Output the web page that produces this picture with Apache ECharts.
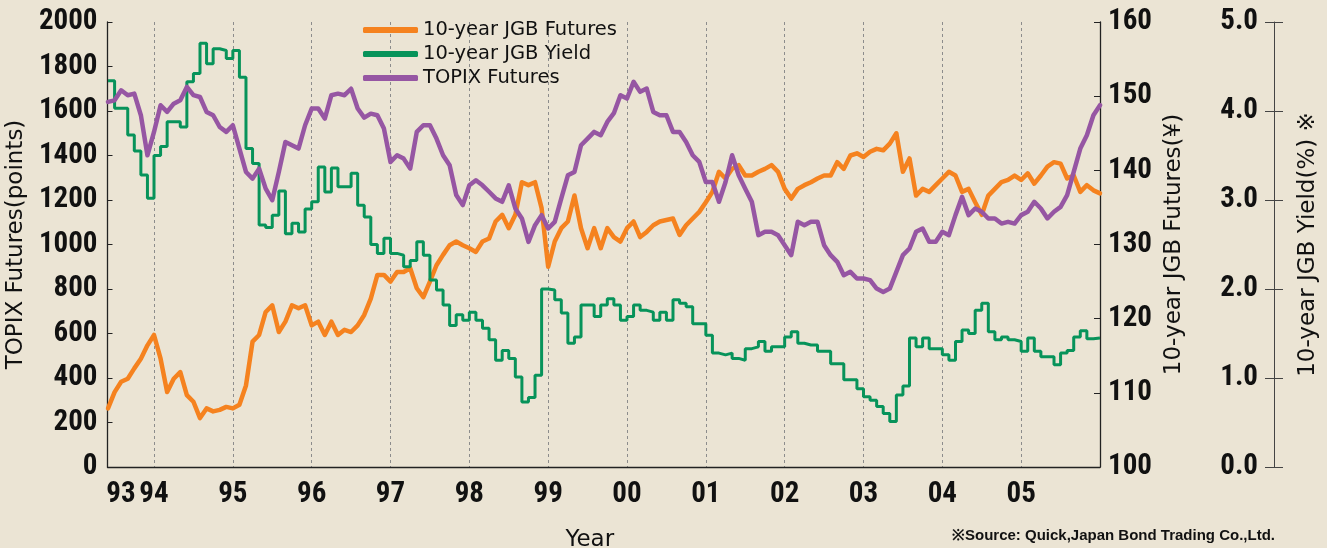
<!DOCTYPE html>
<html lang="en">
<head>
    <meta charset="UTF-8">
    <title>TOPIX Futures / 10-year JGB</title>
    <script src="https://cdn.jsdelivr.net/npm/echarts@6/dist/echarts.min.js"></script>
    <style>
        html, body { margin: 0; padding: 0; background: #ebe4d4; }
        #chartmain { width: 1327px; height: 548px; }
    </style>
</head>
<body>
<div id="chartmain"></div>
<script type="text/javascript">
    // monthly readings, first month = June 1993, last = December 2005
    var startYear = 1993, startMonth = 6, endYear = 2006;

    var topixFutures = [
        1641, 1648, 1693, 1671, 1678, 1581, 1401, 1506, 1626, 1596,
        1633, 1648, 1708, 1671, 1663, 1596, 1581, 1528, 1506, 1536,
        1431, 1326, 1296, 1341, 1251, 1199, 1326, 1461, 1446, 1431,
        1536, 1611, 1611, 1566, 1671, 1678, 1671, 1700, 1611, 1570,
        1588, 1581, 1521, 1371, 1401, 1386, 1341, 1506, 1536, 1536,
        1476, 1401, 1356, 1222, 1177, 1266, 1289, 1266, 1237, 1207,
        1192, 1266, 1162, 1117, 1012, 1087, 1132, 1072, 1102, 1207,
        1311, 1326, 1446, 1476, 1506, 1491, 1551, 1590, 1671, 1656,
        1731, 1686, 1701, 1596, 1581, 1581, 1506, 1506, 1461, 1401,
        1371, 1281, 1281, 1192, 1281, 1401, 1311, 1251, 1192, 1042,
        1057, 1057, 1042, 997, 952, 1102, 1087, 1102, 1102, 997,
        952, 922, 862, 877, 847, 847, 840, 802, 787, 802,
        877, 952, 982, 1057, 1072, 1012, 1012, 1057, 1042, 1132,
        1214, 1132, 1162, 1147, 1117, 1117, 1094, 1102, 1094, 1132,
        1147, 1192, 1162, 1117, 1147, 1169, 1222, 1326, 1431, 1491, 1581
    ];
    var topixLast = 1626;

    var jgbFutures = [
        107.9, 110.1, 111.5, 111.9, 113.3, 114.6, 116.4, 117.8, 114.6, 110.1,
        111.9, 112.8, 109.7, 108.8, 106.6, 107.9, 107.5, 107.7, 108.1, 107.9,
        108.4, 111.0, 116.9, 117.8, 120.9, 121.8, 118.2, 119.6, 121.8, 121.4,
        121.8, 119.1, 119.6, 117.8, 119.6, 117.8, 118.5, 118.2, 119.1, 120.5,
        122.7, 125.9, 125.9, 125.0, 126.3, 126.3, 126.8, 124.1, 122.9, 125.0,
        127.2, 128.6, 129.9, 130.4, 129.9, 129.5, 129.0, 130.4, 130.8, 133.1,
        134.0, 132.2, 134.0, 138.4, 138.0, 138.4, 134.9, 127.0, 130.4, 132.2,
        133.1, 136.6, 132.2, 129.5, 132.2, 129.5, 132.2, 131.0, 130.4, 132.2,
        133.1, 131.0, 131.7, 132.6, 133.1, 133.3, 133.5, 131.3, 132.6, 133.5,
        134.4, 135.7, 137.1, 139.8, 138.9, 140.2, 140.7, 139.3, 139.3, 139.8,
        140.2, 140.7, 139.8, 137.5, 136.2, 137.5, 138.0, 138.4, 138.9, 139.3,
        139.3, 141.1, 140.2, 142.0, 142.3, 141.8, 142.5, 142.9, 142.7, 143.6,
        145.0, 139.8, 141.6, 136.6, 137.5, 137.1, 138.0, 138.9, 139.8, 139.3,
        137.1, 137.5, 135.7, 134.0, 136.6, 137.5, 138.4, 138.7, 139.3, 138.7,
        139.6, 138.2, 139.3, 140.5, 141.1, 140.9, 138.9, 139.3, 137.1, 138.0, 137.3
    ];
    var jgbFuturesLast = 136.9;

    var jgbYield = [
        4.34, 4.03, 4.03, 3.73, 3.55, 3.28, 3.02, 3.50, 3.60, 3.88,
        3.88, 3.82, 4.33, 4.42, 4.76, 4.53, 4.70, 4.68, 4.59, 4.68,
        4.38, 3.58, 3.41, 2.72, 2.69, 2.83, 3.10, 2.62, 2.74, 2.64,
        2.90, 2.98, 3.37, 3.09, 3.36, 3.15, 3.15, 3.30, 2.94, 2.81,
        2.50, 2.40, 2.57, 2.40, 2.38, 2.25, 2.32, 2.53, 2.38, 2.10,
        1.99, 1.82, 1.59, 1.71, 1.65, 1.74, 1.65, 1.56, 1.43, 1.20,
        1.31, 1.22, 1.01, 0.73, 0.78, 1.03, 2.00, 1.99, 1.88, 1.73,
        1.39, 1.46, 1.82, 1.82, 1.69, 1.82, 1.89, 1.82, 1.65, 1.69,
        1.82, 1.76, 1.74, 1.65, 1.74, 1.65, 1.88, 1.84, 1.80, 1.61,
        1.61, 1.48, 1.28, 1.26, 1.28, 1.22, 1.20, 1.33, 1.35, 1.41,
        1.30, 1.35, 1.35, 1.46, 1.52, 1.39, 1.37, 1.37, 1.30, 1.30,
        1.16, 1.16, 0.98, 0.98, 0.88, 0.79, 0.75, 0.68, 0.60, 0.51,
        0.81, 0.91, 1.45, 1.35, 1.45, 1.33, 1.33, 1.26, 1.20, 1.41,
        1.54, 1.50, 1.76, 1.84, 1.52, 1.43, 1.46, 1.43, 1.41, 1.30,
        1.45, 1.30, 1.24, 1.24, 1.15, 1.28, 1.31, 1.46, 1.53, 1.44, 1.45
    ];

    var yearTicks = [1994, 1995, 1996, 1997, 1998, 1999, 2000, 2001, 2002, 2003, 2004, 2005];
    var yearLabelPos = [1993.58, 1994, 1995, 1996, 1997, 1998, 1999, 2000, 2001, 2002, 2003, 2004, 2005];
    var yearLabels = ['93', '94', '95', '96', '97', '98', '99', '00', '01', '02', '03', '04', '05'];

    // pick a condensed face for the bold tick numbers if one is installed
    function hasFont(name) {
        var ctx = document.createElement('canvas').getContext('2d');
        var probe = '0123456789 TOPIX';
        ctx.font = 'bold 40px monospace';
        var base = ctx.measureText(probe).width;
        ctx.font = 'bold 40px "' + name + '", monospace';
        return Math.abs(ctx.measureText(probe).width - base) > 0.5;
    }
    var narrowFaces = ['Liberation Sans Narrow', 'Arial Narrow', 'DejaVu Sans Condensed', 'Roboto Condensed'];
    var numFont = null;
    for (var f = 0; f < narrowFaces.length; f++) {
        if (hasFont(narrowFaces[f])) { numFont = '"' + narrowFaces[f] + '", sans-serif'; break; }
    }
    var numSize = 29;
    if (!numFont) { numFont = '"Liberation Sans", Arial, sans-serif'; numSize = 25; }

    var nameFont = '"DejaVu Sans", sans-serif';

    function monthX(i) {
        return startYear + (startMonth - 1 + i) / 12;
    }
    function toPairs(vals, last) {
        var out = vals.map(function (v, i) { return [monthX(i), v]; });
        out.push([endYear, last]);
        return out;
    }
    function yearLabel(v) {
        for (var i = 0; i < yearLabelPos.length; i++) {
            if (Math.abs(yearLabelPos[i] - v) < 0.01) return yearLabels[i];
        }
        return '';
    }

    var labelStyle = {fontFamily: numFont, fontWeight: 'bold', fontSize: numSize, color: '#111'};
    var nameStyle = {fontFamily: nameFont, fontSize: 23, color: '#111'};
    var axisLineStyle = {lineStyle: {color: '#222', width: 1.3}};

    var myChart = echarts.init(document.getElementById('chartmain'));
    myChart.setOption({
        backgroundColor: '#ebe4d4',
        animation: false,
        grid: {left: 107.5, right: 227, top: 22, bottom: 81, outerBoundsMode: 'none', containLabel: false},
        legend: {
            orient: 'vertical',
            left: 358,
            top: 15,
            itemWidth: 55,
            itemHeight: 6,
            itemGap: 4,
            icon: 'roundRect',
            data: ['10-year JGB Futures', '10-year JGB Yield', 'TOPIX Futures'],
            textStyle: {fontFamily: nameFont, fontSize: 19.5, color: '#111'}
        },
        graphic: [{
            type: 'text',
            right: 52,
            top: 528,
            style: {
                text: '※Source: Quick,Japan Bond Trading Co.,Ltd.',
                font: 'bold 15px "Liberation Sans", Arial, sans-serif',
                fill: '#111'
            }
        }],
        xAxis: {
            type: 'value',
            min: 1993.41,
            max: endYear,
            axisLine: axisLineStyle,
            axisTick: {show: false, customValues: yearTicks},
            axisLabel: Object.assign({customValues: yearLabelPos, formatter: yearLabel, margin: 13, hideOverlap: false}, labelStyle),
            splitLine: {show: true, lineStyle: {type: [3, 3], color: '#8c8c8c', width: 1}},
            name: 'Year',
            nameLocation: 'middle',
            nameGap: 62,
            nameTextStyle: Object.assign({padding: [0, 28, 0, 0]}, nameStyle)
        },
        yAxis: [{
            type: 'value',
            position: 'left',
            min: 0, max: 2000, interval: 200,
            axisLine: {show: true, lineStyle: axisLineStyle.lineStyle},
            axisTick: {show: true, inside: true, length: 5, lineStyle: {color: '#222'}},
            axisLabel: Object.assign({margin: 10, formatter: function (v) { return String(v); }}, labelStyle),
            splitLine: {show: false},
            name: 'TOPIX Futures(points)',
            nameLocation: 'middle',
            nameGap: 76,
            nameRotate: 90,
            nameTextStyle: nameStyle
        }, {
            type: 'value',
            position: 'right',
            min: 100, max: 160, interval: 10,
            axisLine: {show: true, lineStyle: axisLineStyle.lineStyle},
            axisTick: {show: true, inside: true, length: 6, lineStyle: {color: '#222'}},
            axisLabel: Object.assign({margin: 8}, labelStyle),
            splitLine: {show: false},
            name: '10-year JGB Futures(¥)',
            nameLocation: 'middle',
            nameGap: 59,
            nameRotate: 90,
            nameTextStyle: nameStyle
        }, {
            type: 'value',
            position: 'right',
            offset: 174,
            min: 0, max: 5, interval: 1,
            axisLine: {show: true, lineStyle: {color: '#444', width: 1}},
            axisTick: {show: true, inside: true, length: 9, lineStyle: {color: '#444'}},
            axisLabel: Object.assign({inside: true, margin: 16, formatter: function (v) { return v.toFixed(1); }}, labelStyle),
            splitLine: {show: false},
            name: '10-year JGB Yield(%) ※',
            nameLocation: 'middle',
            nameGap: 23,
            nameRotate: 90,
            nameTextStyle: nameStyle
        }, {
            // outer half of the crossing ticks on the yield axis
            type: 'value',
            position: 'right',
            offset: 174,
            min: 0, max: 5, interval: 1,
            axisLine: {show: false},
            axisTick: {show: true, inside: false, length: 9, lineStyle: {color: '#444'}},
            axisLabel: {show: false},
            splitLine: {show: false}
        }],
        series: [{
            name: '10-year JGB Futures',
            type: 'line',
            yAxisIndex: 1,
            showSymbol: false,
            color: '#f5821f',
            lineStyle: {width: 4.5, cap: 'round', join: 'round'},
            data: toPairs(jgbFutures, jgbFuturesLast)
        }, {
            name: '10-year JGB Yield',
            type: 'line',
            yAxisIndex: 2,
            step: 'end',
            showSymbol: false,
            color: '#07935a',
            lineStyle: {width: 3},
            data: toPairs(jgbYield, jgbYield[jgbYield.length - 1])
        }, {
            name: 'TOPIX Futures',
            type: 'line',
            yAxisIndex: 0,
            showSymbol: false,
            color: '#9656a3',
            lineStyle: {width: 4.5, cap: 'round', join: 'round'},
            data: toPairs(topixFutures, topixLast)
        }]
    });
</script>
</body>
</html>
